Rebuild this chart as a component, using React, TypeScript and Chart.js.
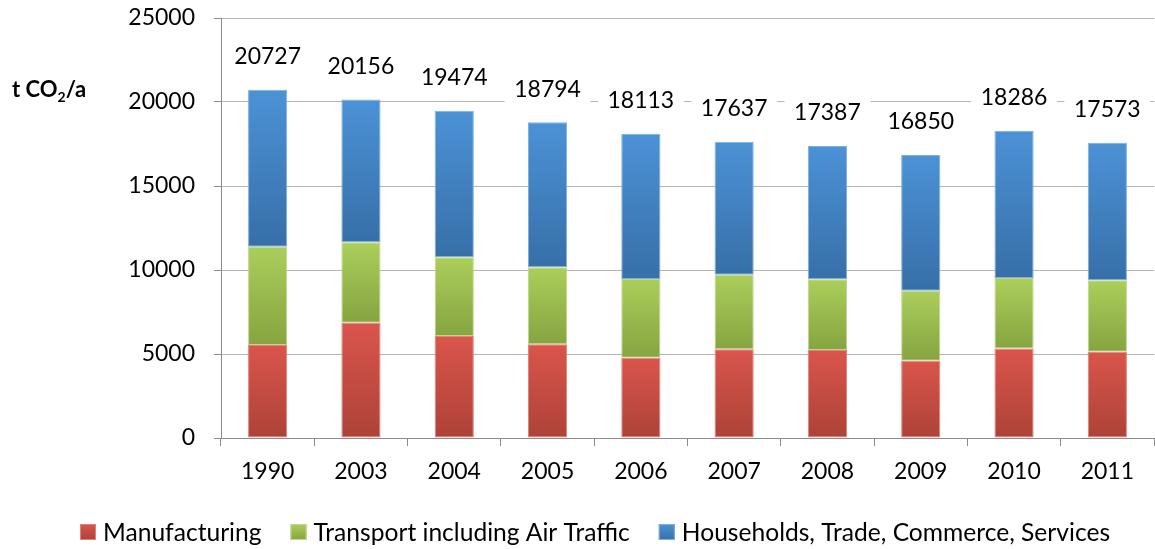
import React, { useEffect, useRef } from "react";
import { Chart, registerables } from "chart.js";

Chart.register(...registerables);

const categories = ["1990", "2003", "2004", "2005", "2006", "2007", "2008", "2009", "2010", "2011"];
const manufacturing = [5540, 6860, 6070, 5580, 4780, 5280, 5240, 4600, 5320, 5140];
const transport = [5847, 4787, 4684, 4579, 4684, 4442, 4204, 4170, 4204, 4245];
const households = [9340, 8509, 8720, 8635, 8649, 7915, 7943, 8080, 8762, 8188];
const totals = [20727, 20156, 19474, 18794, 18113, 17637, 17387, 16850, 18286, 17573];
const seriesNames = ["Manufacturing", "Transport including Air Traffic", "Households, Trade, Commerce, Services"];
const yTicks = [0, 5000, 10000, 15000, 20000, 25000];

const FONT = "Lato, 'Open Sans', sans-serif";
const seriesData = [manufacturing, transport, households];
const colorTop = ["#da554c", "#abce5b", "#4b92d6"];
const colorBottom = ["#ad4238", "#86a440", "#376fa8"];
const colorBorder = ["#e2817a", "#bcd88a", "#7eafe0"];

function gradientFor(di: number) {
  return (ctx: any) => {
    const chart = ctx.chart;
    const y = chart.scales && chart.scales.y;
    if (ctx.type !== "data" || !y) return colorTop[di];
    const i = ctx.dataIndex;
    let base = 0;
    for (let k = 0; k < di; k++) base += seriesData[k][i];
    const top = y.getPixelForValue(base + seriesData[di][i]);
    const bot = y.getPixelForValue(base);
    if (!isFinite(top) || !isFinite(bot) || top === bot) return colorTop[di];
    const g = chart.ctx.createLinearGradient(0, top, 0, bot);
    g.addColorStop(0, colorTop[di]);
    g.addColorStop(1, colorBottom[di]);
    return g;
  };
}

const extrasPlugin = {
  id: "extras",
  afterDatasetsDraw(chart: any) {
    const { ctx, scales } = chart;
    const x = scales.x;
    const y = scales.y;
    ctx.save();
    // total labels
    ctx.font = `23px ${FONT}`;
    ctx.textAlign = "center";
    ctx.textBaseline = "middle";
    totals.forEach((t, i) => {
      const cx = x.getPixelForValue(i);
      const cy = y.getPixelForValue(t) - 34;
      ctx.fillStyle = "#ffffff";
      ctx.fillRect(cx - 43, cy - 15, 86, 30);
      ctx.fillStyle = "#000000";
      ctx.fillText(String(t), cx, cy + 1);
    });
    // y axis title: t CO2/a
    ctx.textAlign = "left";
    ctx.textBaseline = "alphabetic";
    ctx.fillStyle = "#000000";
    let px = 12;
    const baseY = 97;
    ctx.font = `bold 22px ${FONT}`;
    ctx.fillText("t CO", px, baseY);
    px += ctx.measureText("t CO").width;
    ctx.font = `bold 14px ${FONT}`;
    ctx.fillText("2", px, baseY + 5);
    px += ctx.measureText("2").width;
    ctx.font = `bold 22px ${FONT}`;
    ctx.fillText("/a", px, baseY);
    // legend
    ctx.font = `24.6px ${FONT}`;
    ctx.textBaseline = "middle";
    let lx = 80;
    const ly = 532;
    chart.data.datasets.forEach((ds: any, di: number) => {
      const g = ctx.createLinearGradient(0, ly - 8, 0, ly + 8);
      g.addColorStop(0, colorTop[di]);
      g.addColorStop(1, colorBottom[di]);
      ctx.fillStyle = g;
      ctx.fillRect(lx, ly - 8, 16, 16);
      ctx.strokeStyle = colorBorder[di];
      ctx.lineWidth = 1;
      ctx.strokeRect(lx + 0.5, ly - 7.5, 15, 15);
      lx += 16 + 7;
      ctx.fillStyle = "#000000";
      ctx.fillText(ds.label, lx, ly + 1);
      lx += ctx.measureText(ds.label).width + 29;
    });
    ctx.restore();
  },
};

export default function App() {
  const ref = useRef<HTMLCanvasElement | null>(null);
  useEffect(() => {
    if (!ref.current) return;
    const chart = new Chart(ref.current, {
      type: "bar",
      data: {
        labels: categories,
        datasets: seriesData.map((d, di) => ({
          label: seriesNames[di],
          data: d,
          backgroundColor: gradientFor(di),
          borderColor: colorBorder[di],
          borderWidth: 1,
          borderSkipped: false,
          barPercentage: 0.42,
          categoryPercentage: 1,
        })),
      },
      options: {
        responsive: false,
        animation: false,
        layout: { padding: { top: 18, left: 0, right: 1, bottom: 0 } },
        plugins: { legend: { display: false }, tooltip: { enabled: false } },
        scales: {
          x: {
            stacked: true,
            offset: true,
            grid: {
              offset: true,
              drawOnChartArea: false,
              drawTicks: true,
              tickLength: 8,
              color: "#8c8c8c",
            },
            border: { color: "#8c8c8c", width: 1 },
            ticks: { color: "#000", font: { family: FONT, size: 23 }, padding: 12, maxRotation: 0 },
            afterFit: (s: any) => {
              s.height = 111;
              s.paddingLeft = 0;
              s.paddingRight = 0;
            },
          },
          y: {
            stacked: true,
            min: 0,
            max: 25000,
            afterBuildTicks: (s: any) => {
              s.ticks = yTicks.map((v) => ({ value: v }));
            },
            grid: { color: "#b4b4b4", tickLength: 7, tickColor: "#8c8c8c" },
            border: { color: "#8c8c8c", width: 1 },
            ticks: {
              color: "#000",
              font: { family: FONT, size: 23 },
              padding: 19,
              callback: (v: any) => String(v),
            },
            afterFit: (s: any) => {
              s.width = 221;
              s.paddingTop = 0;
              s.paddingBottom = 0;
            },
          },
        },
      },
      plugins: [extrasPlugin],
    });
    return () => chart.destroy();
  }, []);
  return (
    <div style={{ position: "fixed", left: 0, top: 0, width: 1155, height: 549, background: "#fff" }}>
      <canvas ref={ref} width={1155} height={549} />
    </div>
  );
}
